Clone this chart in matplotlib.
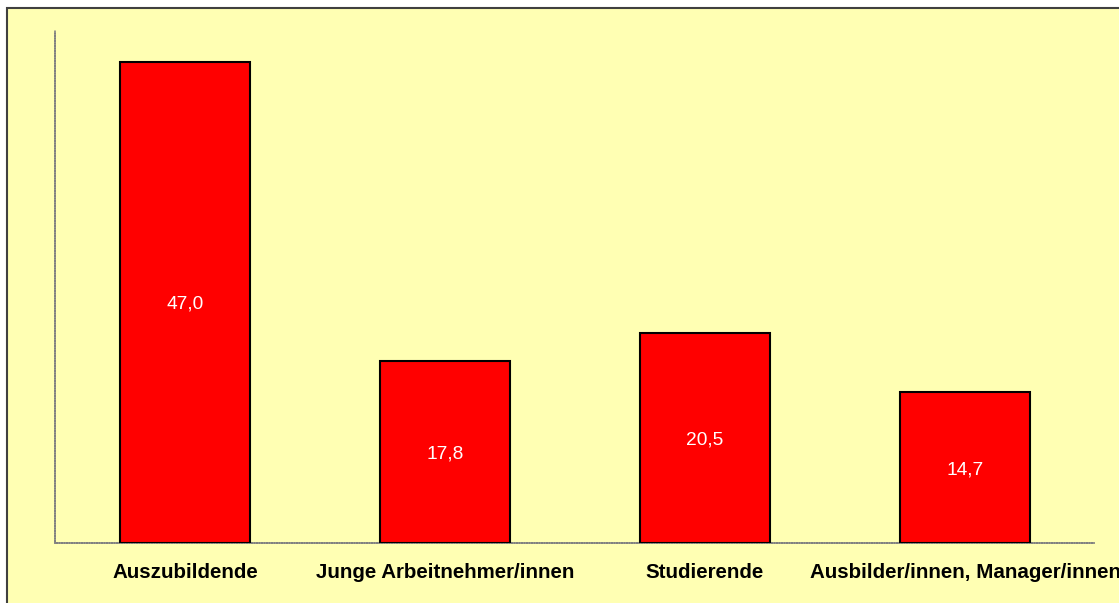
import matplotlib
matplotlib.use("Agg")
import matplotlib.pyplot as plt
from matplotlib.patches import Rectangle

categories = ["Auszubildende", "Junge Arbeitnehmer/innen", "Studierende",
              "Ausbilder/innen, Manager/innen"]
values = [47.0, 17.8, 20.5, 14.7]
value_labels = ["47,0", "17,8", "20,5", "14,7"]

W, H = 1119, 603
fig = plt.figure(figsize=(W / 100, H / 100), dpi=100, facecolor="white")
bg = "#FFFFB3"
fig.patches.append(Rectangle((7 / W, -0.1), 1.2, (H - 8) / H + 0.1,
                             transform=fig.transFigure, facecolor=bg,
                             edgecolor="#404040", linewidth=1.5, zorder=-10))

ax = fig.add_axes([55 / W, (H - 543) / H, (1095 - 55) / W, (543 - 31) / H])
ax.set_zorder(1)
ax.patch.set_alpha(0)

x = list(range(len(categories)))
bars = ax.bar(x, values, width=0.5, color="#FF0000", edgecolor="black",
              linewidth=1.5, zorder=3)
for xi, v, lab in zip(x, values, value_labels):
    ax.annotate(lab, (xi, v / 2), xytext=(0, -2), textcoords="offset pixels",
                color="white", ha="center", va="center",
                fontsize=13.8, family="Liberation Sans", zorder=4)

ax.set_xlim(-0.5, 3.5)
ax.set_ylim(0, 50)
ax.set_yticks([])
ax.set_xticks(x)
ax.set_xticklabels(categories, fontsize=14.8, fontweight="bold",
                   family="Liberation Sans")
ax.tick_params(axis="x", length=0, pad=14.5)
for s in ["top", "right"]:
    ax.spines[s].set_visible(False)
for s in ["left", "bottom"]:
    ax.spines[s].set_color("#808080")
    ax.spines[s].set_linewidth(1.2)
    ax.spines[s].set_linestyle((0, (1, 0.5)))

fig.savefig("out.png", dpi=100, facecolor="white")
